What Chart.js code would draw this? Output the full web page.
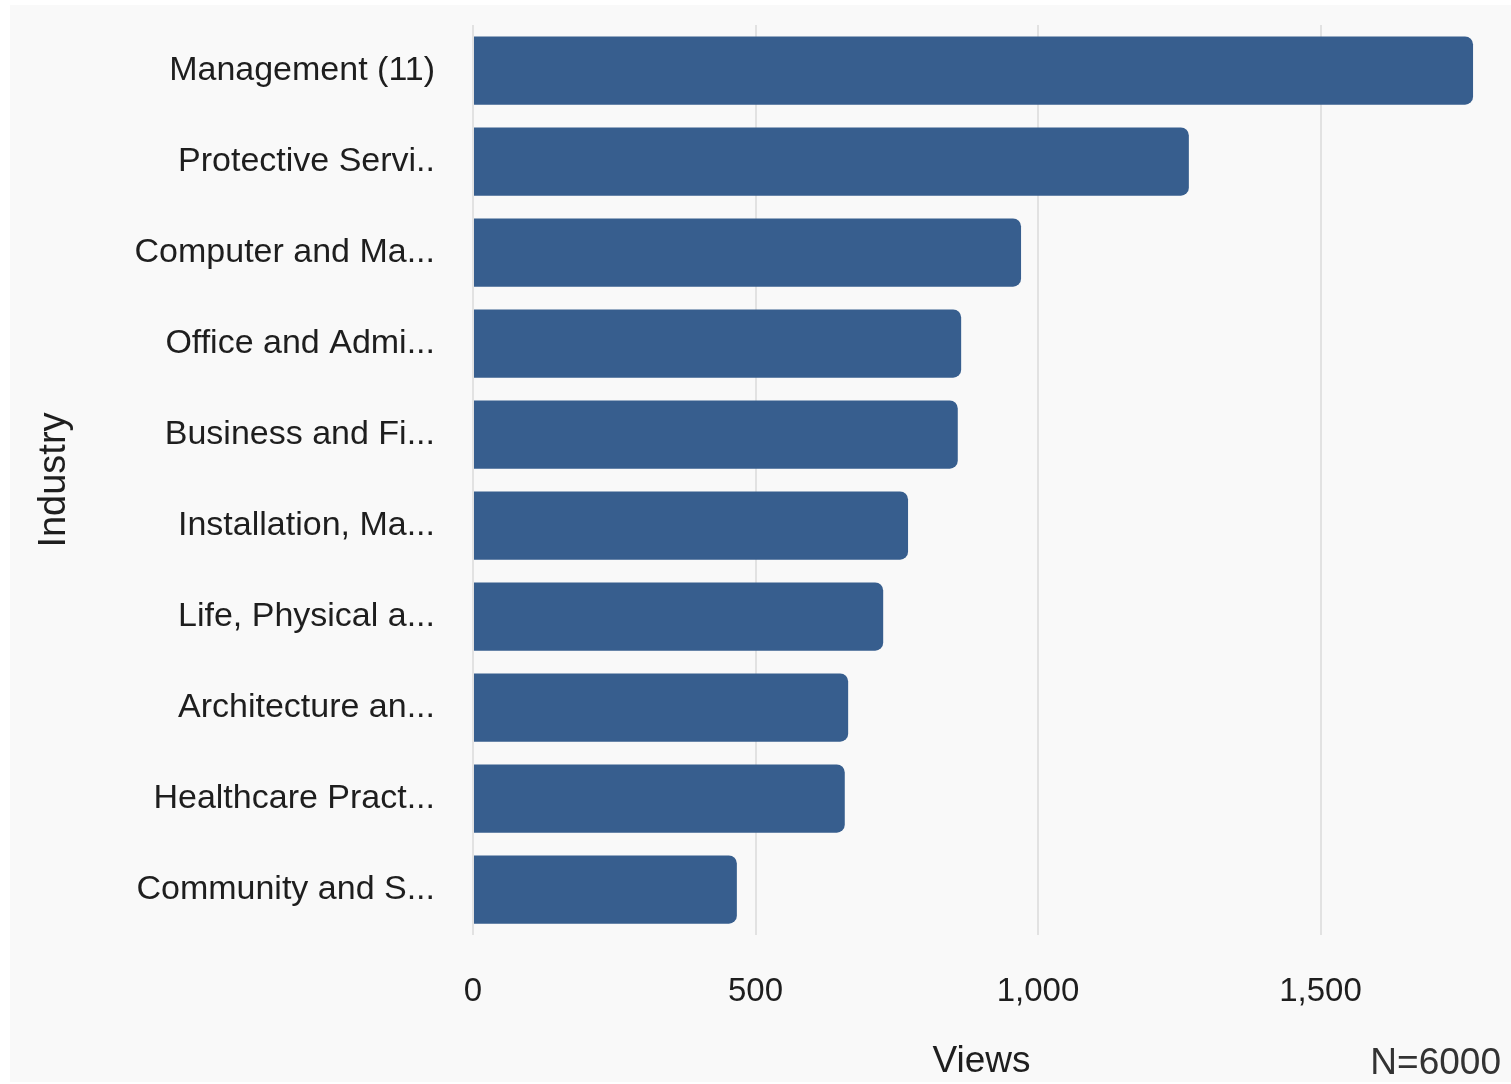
<!DOCTYPE html>
<html>
<head>
<meta charset="utf-8">
<script src="https://cdn.jsdelivr.net/npm/chart.js"></script>
<style>
  html, body { margin: 0; padding: 0; background: #ffffff; }
  #wrap { width: 1511px; height: 1084px; position: relative; }
</style>
</head>
<body>
<div id="wrap"><canvas id="viewsChart"></canvas></div>
<script>
const industries = [
    'Management (11)',
    'Protective Servi..',
    'Computer and Ma...',
    'Office and Admi...',
    'Business and Fi...',
    'Installation, Ma...',
    'Life, Physical a...',
    'Architecture an...',
    'Healthcare Pract...',
    'Community and S...'
];
const views = [1770, 1267, 970, 864, 858, 770, 726, 664, 658, 467];
const tickValues = [0, 500, 1000, 1500];
const sampleNote = 'N=6000';

// grey panel behind the chart + the N= note in the corner
const panelPlugin = {
    id: 'panel',
    beforeDraw(chart) {
        const ctx = chart.ctx;
        ctx.save();
        ctx.fillStyle = '#f9f9f9';
        ctx.fillRect(10, 5, chart.width - 10, chart.height - 7);
        ctx.restore();
    },
    afterDraw(chart) {
        const ctx = chart.ctx;
        ctx.save();
        ctx.font = '37px "Liberation Sans", Arial, sans-serif';
        ctx.fillStyle = '#333333';
        ctx.textAlign = 'right';
        ctx.textBaseline = 'bottom';
        ctx.fillText(sampleNote, chart.width - 10, chart.height - 2);
        ctx.restore();
    }
};

const family = '"Liberation Sans", Arial, sans-serif';

new Chart(document.getElementById('viewsChart').getContext('2d'), {
    type: 'bar',
    data: {
        labels: industries,
        datasets: [{
            label: 'Views',
            data: views,
            backgroundColor: '#375e8e',
            borderRadius: 8,
            barPercentage: 0.75,
            categoryPercentage: 1
        }]
    },
    options: {
        indexAxis: 'y',
        responsive: true,
        maintainAspectRatio: false,
        animation: false,
        layout: { padding: { left: 28, top: 25, right: 21, bottom: 0 } },
        plugins: {
            legend: { display: false },
            tooltip: { enabled: false }
        },
        scales: {
            x: {
                min: 0,
                max: 1800,
                afterBuildTicks: axis => { axis.ticks = tickValues.map(v => ({ value: v })); },
                afterFit: scale => { scale.height = 149; },
                grid: { color: '#e2e2e2', lineWidth: 2, drawTicks: false },
                border: { display: false },
                ticks: {
                    padding: 37,
                    color: '#1e1e1e',
                    font: { family: family, size: 33 },
                    callback: v => v.toLocaleString('en-US')
                },
                title: {
                    display: true,
                    text: 'Views',
                    color: '#1e1e1e',
                    font: { family: family, size: 37 },
                    padding: { top: 26, bottom: 0 }
                }
            },
            y: {
                afterFit: scale => {
                    scale.width = 445;
                    scale.paddingTop = 0;
                    scale.paddingBottom = 0;
                },
                grid: { display: false, drawTicks: false },
                border: { display: false },
                ticks: {
                    padding: 38,
                    color: '#1e1e1e',
                    font: { family: family, size: 34 }
                },
                title: {
                    display: true,
                    text: 'Industry',
                    color: '#1e1e1e',
                    font: { family: family, size: 38 },
                    padding: { top: 4, bottom: 0 }
                }
            }
        }
    },
    plugins: [panelPlugin]
});
</script>
</body>
</html>
